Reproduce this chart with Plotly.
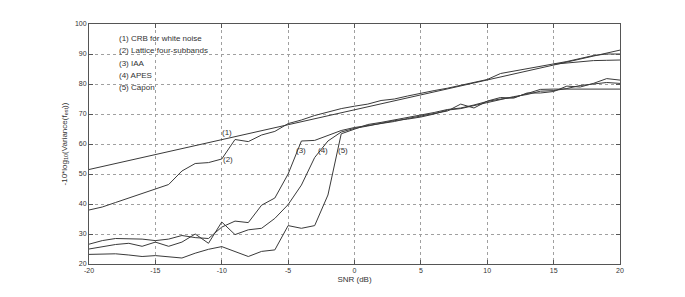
import plotly.graph_objects as go

snr = list(range(-20, 21))

crb = [51.5, 52.5, 53.5, 54.5, 55.5, 56.5, 57.5, 58.5, 59.5, 60.5, 61.5, 62.5, 63.5, 64.5, 65.5,
       66.5, 67.5, 68.5, 69.5, 70.5, 71.5, 72.5, 73.5, 74.5, 75.5, 76.5, 77.4, 78.4, 79.4, 80.4,
       81.4, 82.4, 83.4, 84.4, 85.4, 86.4, 87.4, 88.4, 89.4, 90.3, 91.3]

lattice = [38.0, 39.0, 40.5, 42.0, 43.5, 44.8, 46.5, 51.0, 53.5, 53.8, 55.0, 61.5, 60.8, 63.0, 64.2,
           66.8, 68.0, 69.5, 70.7, 71.8, 72.6, 73.3, 74.5, 75.0, 76.0, 77.0, 77.8, 78.6, 79.6, 80.4,
           81.5, 83.5, 84.3, 85.0, 85.8, 86.6, 87.5, 88.5, 89.5, 90.0, 90.0]

lattice_b = [None] * 35 + [86.6, 87.0, 87.5, 87.8, 87.9, 88.0]

iaa = [26.6, 27.8, 28.5, 28.4, 28.3, 27.8, 28.3, 29.5, 28.8, 28.5, 32.3, 34.3, 33.8, 39.6, 42.0,
       50.0, 61.0, 61.2, 62.8, 64.5, 65.5, 66.2, 67.0, 67.5, 68.5, 69.3, 70.2, 71.0, 73.3, 72.0,
       74.3, 75.5, 75.3, 77.0, 77.0, 77.5, 79.3, 79.0, 80.2, 81.8, 81.3]

apes = [25.0, 25.7, 26.5, 26.9, 25.9, 27.3, 25.9, 27.3, 30.0, 26.9, 34.0, 29.8, 31.4, 31.9, 35.2,
        39.8, 46.3, 55.5, 61.0, 64.0, 65.2, 66.0, 67.0, 67.8, 68.3, 69.0, 70.0, 71.3, 71.8, 72.8,
        73.8, 75.0, 75.8, 76.5, 77.6, 77.8, 78.5, 79.5, 80.0, 80.5, 80.2]

capon = [23.2, 23.3, 23.4, 23.0, 22.5, 22.8, 22.4, 22.0, 23.6, 24.9, 25.8, 24.2, 22.5, 24.2, 24.7,
         32.8, 31.9, 32.8, 43.0, 63.4, 65.0, 66.5, 67.2, 68.0, 68.8, 69.7, 70.5, 71.5, 72.0, 73.0,
         74.2, 75.0, 75.5, 76.8, 78.2, 78.3, 78.3, 78.3, 78.3, 78.3, 78.3]

legend_lines = ["(1) CRB for white noise", "(2) Lattice four-subbands", "(3) IAA", "(4) APES", "(5) Capon"]
legend_y = [95.2, 91.3, 87.0, 83.0, 79.0]

curve_labels = ["(1)", "(2)", "(3)", "(4)", "(5)"]
curve_label_x = [-9.6, -9.5, -4.0, -2.4, -0.9]
curve_label_y = [64.0, 54.8, 58.0, 58.0, 58.0]

xticks = [-20, -15, -10, -5, 0, 5, 10, 15, 20]
yticks = [20, 30, 40, 50, 60, 70, 80, 90, 100]

line_color = "#3a3a3a"
font_fam = "Liberation Sans, Arial, sans-serif"

fig = go.Figure()
for name, ys in [("CRB", crb), ("Lattice", lattice), ("Lattice b", lattice_b),
                 ("IAA", iaa), ("APES", apes), ("Capon", capon)]:
    fig.add_trace(go.Scatter(x=snr, y=ys, mode="lines", name=name,
                             line=dict(color=line_color, width=1), connectgaps=False,
                             showlegend=False))

for txt, yy in zip(legend_lines, legend_y):
    fig.add_annotation(x=-17.9, y=yy, text=txt, showarrow=False, xanchor="left", yanchor="middle",
                       font=dict(family=font_fam, size=8, color="#333333"))

for txt, xx, yy in zip(curve_labels, curve_label_x, curve_label_y):
    fig.add_annotation(x=xx, y=yy, text=txt, showarrow=False, xanchor="center", yanchor="middle",
                       font=dict(family=font_fam, size=8, color="#333333"))

axis_common = dict(showgrid=True, gridcolor="#a0a0a0", griddash="dot", gridwidth=1,
                   showline=True, linecolor="#555555", linewidth=1, mirror="ticks",
                   ticks="inside", ticklen=4, tickcolor="#555555", zeroline=False,
                   tickfont=dict(family=font_fam, size=7, color="#333333"))

fig.update_xaxes(range=[-20, 20], tickvals=xticks, ticktext=[str(v) for v in xticks],
                 title=dict(text="SNR (dB)", font=dict(family=font_fam, size=8, color="#333333"),
                            standoff=2),
                 **axis_common)
fig.update_yaxes(range=[20, 100], tickvals=yticks, ticktext=[str(v) for v in yticks],
                 title=dict(text="-10*log<sub>10</sub>(Variance(f<sub>est</sub>))",
                            font=dict(family=font_fam, size=8, color="#333333"), standoff=6),
                 **axis_common)

fig.update_layout(width=685, height=297, margin=dict(l=81, r=73, t=14, b=41),
                  paper_bgcolor="white", plot_bgcolor="white", showlegend=False)

fig.write_html("out.html")
